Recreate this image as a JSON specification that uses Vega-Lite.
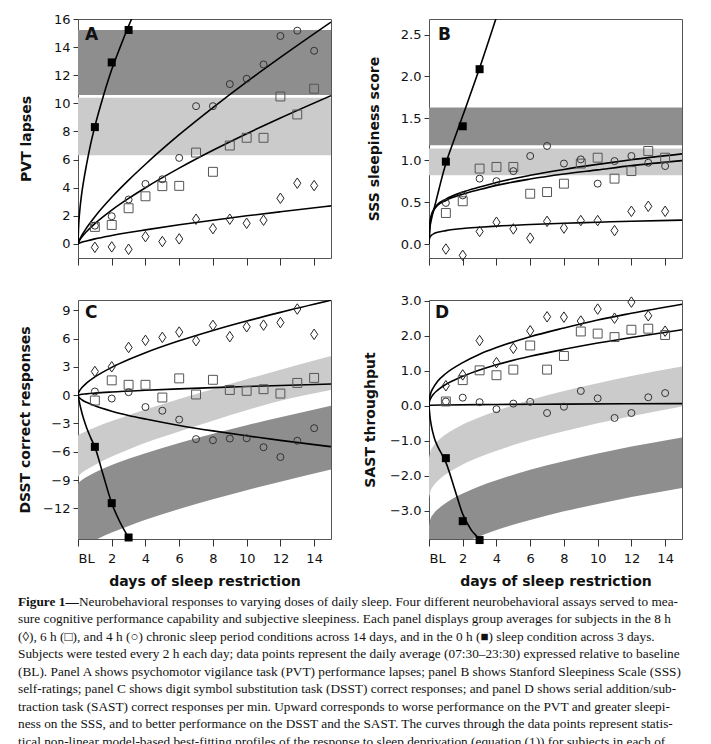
{
  "$schema": "https://vega.github.io/schema/vega-lite/v6.json",
  "background": "white",
  "padding": {"left": 17, "top": 12, "right": 5, "bottom": 0},
  "spacing": 0,
  "config": {
    "view": {"stroke": "#555", "strokeWidth": 1},
    "axis": {"labelFont": "DejaVu Sans", "labelFontSize": 13, "labelColor": "#111", "titleFont": "DejaVu Sans", "titleFontSize": 14, "titleFontWeight": "bold", "titleColor": "#111", "tickColor": "#333", "tickSize": 5, "labelPadding": 3, "domain": false, "grid": false},
    "axisX": {"tickSize": 7, "labelPadding": 6, "titlePadding": 9},
    "title": {"anchor": "start", "frame": "group", "orient": "top", "baseline": "alphabetic", "font": "DejaVu Sans", "fontSize": 17, "fontWeight": "bold", "color": "#111"}
  },
  "vconcat": [
    {
      "spacing": 28,
      "vconcat": [
    {
      "hconcat": [
        {
          "width": 253, "height": 239,
          "title": {"text": "A", "offset": -31, "dx": 7},
          "encoding": {
            "x": {"field": "t", "type": "quantitative", "scale": {"domain": [0, 15], "nice": false, "zero": false}, "axis": {"values": [0, 2, 4, 6, 8, 10, 12, 14], "labels": false, "title": null}},
            "y": {"field": "y", "type": "quantitative", "scale": {"domain": [-1, 16], "nice": false, "zero": false}, "axis": {"values": [0, 2, 4, 6, 8, 10, 12, 14, 16], "title": "PVT lapses", "titleX": -45}}
          },
          "layer": [
            {
              "data": {"values": [{"band": "dark", "t": 0, "y": 10.59, "y2": 15.22}, {"band": "dark", "t": 15, "y": 10.59, "y2": 15.22}, {"band": "light", "t": 0, "y": 6.31, "y2": 10.40}, {"band": "light", "t": 15, "y": 6.31, "y2": 10.40}]},
              "mark": {"type": "area", "opacity": 1},
              "encoding": {"y2": {"field": "y2"}, "color": {"field": "band", "type": "nominal", "scale": {"domain": ["dark", "light"], "range": ["#8e8e8e", "#cbcbcb"]}, "legend": null}}
            },
            {
              "data": {"values": [
                {"cond": "0 h", "t": 0, "y": 0}, {"cond": "0 h", "t": 0.03, "y": 1.1}, {"cond": "0 h", "t": 0.1, "y": 2.3}, {"cond": "0 h", "t": 0.2, "y": 3.4}, {"cond": "0 h", "t": 0.35, "y": 4.6}, {"cond": "0 h", "t": 0.5, "y": 5.6}, {"cond": "0 h", "t": 0.75, "y": 7.1}, {"cond": "0 h", "t": 1, "y": 8.35}, {"cond": "0 h", "t": 1.5, "y": 10.5}, {"cond": "0 h", "t": 2, "y": 12.4}, {"cond": "0 h", "t": 2.5, "y": 14.0}, {"cond": "0 h", "t": 3, "y": 15.5}, {"cond": "0 h", "t": 3.3, "y": 16.35},
                {"cond": "4 h", "t": 0, "y": 0}, {"cond": "4 h", "t": 0.05, "y": 0.19}, {"cond": "4 h", "t": 0.1, "y": 0.33}, {"cond": "4 h", "t": 0.25, "y": 0.66}, {"cond": "4 h", "t": 0.5, "y": 1.13}, {"cond": "4 h", "t": 1, "y": 1.94}, {"cond": "4 h", "t": 2, "y": 3.32}, {"cond": "4 h", "t": 3, "y": 4.54}, {"cond": "4 h", "t": 4, "y": 5.67}, {"cond": "4 h", "t": 6, "y": 7.77}, {"cond": "4 h", "t": 8, "y": 9.70}, {"cond": "4 h", "t": 10, "y": 11.53}, {"cond": "4 h", "t": 12, "y": 13.27}, {"cond": "4 h", "t": 15, "y": 15.78},
                {"cond": "6 h", "t": 0, "y": 0}, {"cond": "6 h", "t": 0.05, "y": 0.16}, {"cond": "6 h", "t": 0.1, "y": 0.27}, {"cond": "6 h", "t": 0.25, "y": 0.52}, {"cond": "6 h", "t": 0.5, "y": 0.87}, {"cond": "6 h", "t": 1, "y": 1.45}, {"cond": "6 h", "t": 2, "y": 2.41}, {"cond": "6 h", "t": 3, "y": 3.24}, {"cond": "6 h", "t": 4, "y": 4.0}, {"cond": "6 h", "t": 6, "y": 5.39}, {"cond": "6 h", "t": 8, "y": 6.66}, {"cond": "6 h", "t": 10, "y": 7.84}, {"cond": "6 h", "t": 12, "y": 8.96}, {"cond": "6 h", "t": 15, "y": 10.55},
                {"cond": "8 h", "t": 0, "y": 0}, {"cond": "8 h", "t": 0.05, "y": 0.04}, {"cond": "8 h", "t": 0.1, "y": 0.06}, {"cond": "8 h", "t": 0.25, "y": 0.13}, {"cond": "8 h", "t": 0.5, "y": 0.21}, {"cond": "8 h", "t": 1, "y": 0.36}, {"cond": "8 h", "t": 2, "y": 0.6}, {"cond": "8 h", "t": 3, "y": 0.81}, {"cond": "8 h", "t": 4, "y": 1.0}, {"cond": "8 h", "t": 6, "y": 1.36}, {"cond": "8 h", "t": 8, "y": 1.69}, {"cond": "8 h", "t": 10, "y": 2.0}, {"cond": "8 h", "t": 12, "y": 2.29}, {"cond": "8 h", "t": 15, "y": 2.71}
              ]},
              "mark": {"type": "line", "color": "#000", "strokeWidth": 1.6, "clip": true, "interpolate": "monotone"},
              "encoding": {"detail": {"field": "cond"}}
            },
            {
              "data": {"name": "ptsA", "values": [
                {"cond": "8 h", "t": 1, "y": -0.24}, {"cond": "8 h", "t": 2, "y": -0.21}, {"cond": "8 h", "t": 3, "y": -0.38}, {"cond": "8 h", "t": 4, "y": 0.52}, {"cond": "8 h", "t": 5, "y": 0.17}, {"cond": "8 h", "t": 6, "y": 0.36}, {"cond": "8 h", "t": 7, "y": 1.76}, {"cond": "8 h", "t": 8, "y": 1.09}, {"cond": "8 h", "t": 9, "y": 1.76}, {"cond": "8 h", "t": 10, "y": 1.47}, {"cond": "8 h", "t": 11, "y": 1.69}, {"cond": "8 h", "t": 12, "y": 3.25}, {"cond": "8 h", "t": 13, "y": 4.32}, {"cond": "8 h", "t": 14, "y": 4.15},
                {"cond": "6 h", "t": 1, "y": 1.21}, {"cond": "6 h", "t": 2, "y": 1.35}, {"cond": "6 h", "t": 3, "y": 2.54}, {"cond": "6 h", "t": 4, "y": 3.39}, {"cond": "6 h", "t": 5, "y": 4.11}, {"cond": "6 h", "t": 6, "y": 4.13}, {"cond": "6 h", "t": 7, "y": 6.5}, {"cond": "6 h", "t": 8, "y": 5.13}, {"cond": "6 h", "t": 9, "y": 7.0}, {"cond": "6 h", "t": 10, "y": 7.55}, {"cond": "6 h", "t": 11, "y": 7.55}, {"cond": "6 h", "t": 12, "y": 10.49}, {"cond": "6 h", "t": 13, "y": 9.21}, {"cond": "6 h", "t": 14, "y": 11.04},
                {"cond": "4 h", "t": 1, "y": 1.3}, {"cond": "4 h", "t": 2, "y": 1.97}, {"cond": "4 h", "t": 3, "y": 3.16}, {"cond": "4 h", "t": 4, "y": 4.27}, {"cond": "4 h", "t": 5, "y": 4.6}, {"cond": "4 h", "t": 6, "y": 6.12}, {"cond": "4 h", "t": 7, "y": 9.8}, {"cond": "4 h", "t": 8, "y": 9.8}, {"cond": "4 h", "t": 9, "y": 11.37}, {"cond": "4 h", "t": 10, "y": 11.75}, {"cond": "4 h", "t": 11, "y": 12.77}, {"cond": "4 h", "t": 12, "y": 14.79}, {"cond": "4 h", "t": 13, "y": 15.17}, {"cond": "4 h", "t": 14, "y": 13.74},
                {"cond": "0 h", "t": 1, "y": 8.31}, {"cond": "0 h", "t": 2, "y": 12.91}, {"cond": "0 h", "t": 3, "y": 15.22}
              ]},
              "transform": [{"filter": "datum.cond != '0 h'"}],
              "mark": {"type": "point", "filled": false, "strokeWidth": 1, "opacity": 1},
              "encoding": {
                "shape": {"field": "cond", "type": "nominal", "scale": {"domain": ["8 h", "6 h", "4 h"], "range": ["M0,-1L0.68,0L0,1L-0.68,0Z", "square", "circle"]}, "legend": null},
                "size": {"field": "cond", "type": "ordinal", "scale": {"domain": ["8 h", "6 h", "4 h"], "range": [110, 49, 45]}, "legend": null},
                "stroke": {"field": "cond", "type": "nominal", "scale": {"domain": ["8 h", "6 h", "4 h"], "range": ["#222", "#555", "#333"]}, "legend": null}
              }
            },
            {
              "data": {"name": "ptsA"},
              "transform": [{"filter": "datum.cond == '0 h'"}],
              "mark": {"type": "square", "filled": true, "color": "#000", "size": 64, "opacity": 1}
            }
          ]
        },
        {
          "width": 253, "height": 239,
          "title": {"text": "B", "offset": -25, "dx": 9},
          "encoding": {
            "x": {"field": "t", "type": "quantitative", "scale": {"domain": [0, 15], "nice": false, "zero": false}, "axis": {"values": [0, 2, 4, 6, 8, 10, 12, 14], "labels": false, "title": null}},
            "y": {"field": "y", "type": "quantitative", "scale": {"domain": [-0.167, 2.685], "nice": false, "zero": false}, "axis": {"values": [0, 0.5, 1, 1.5, 2, 2.5], "format": ".1f", "title": "SSS sleepiness score", "titleX": -48}}
          },
          "layer": [
            {
              "data": {"values": [{"band": "dark", "t": 0, "y": 1.178, "y2": 1.628}, {"band": "dark", "t": 15, "y": 1.178, "y2": 1.628}, {"band": "light", "t": 0, "y": 0.82, "y2": 1.139}, {"band": "light", "t": 15, "y": 0.82, "y2": 1.139}]},
              "mark": {"type": "area", "opacity": 1},
              "encoding": {"y2": {"field": "y2"}, "color": {"field": "band", "type": "nominal", "scale": {"domain": ["dark", "light"], "range": ["#8e8e8e", "#cbcbcb"]}, "legend": null}}
            },
            {
              "data": {"values": [
                {"cond": "0 h", "t": 0, "y": 0}, {"cond": "0 h", "t": 0.05, "y": 0.18}, {"cond": "0 h", "t": 0.15, "y": 0.3}, {"cond": "0 h", "t": 0.3, "y": 0.42}, {"cond": "0 h", "t": 0.5, "y": 0.58}, {"cond": "0 h", "t": 0.75, "y": 0.78}, {"cond": "0 h", "t": 1, "y": 0.96}, {"cond": "0 h", "t": 1.5, "y": 1.25}, {"cond": "0 h", "t": 2, "y": 1.53}, {"cond": "0 h", "t": 3, "y": 2.1}, {"cond": "0 h", "t": 3.97, "y": 2.69},
                {"cond": "4 h", "t": 0, "y": 0}, {"cond": "4 h", "t": 0.02, "y": 0.14}, {"cond": "4 h", "t": 0.06, "y": 0.25}, {"cond": "4 h", "t": 0.15, "y": 0.35}, {"cond": "4 h", "t": 0.3, "y": 0.42}, {"cond": "4 h", "t": 0.5, "y": 0.47}, {"cond": "4 h", "t": 1, "y": 0.535}, {"cond": "4 h", "t": 2, "y": 0.62}, {"cond": "4 h", "t": 3, "y": 0.68}, {"cond": "4 h", "t": 4, "y": 0.735}, {"cond": "4 h", "t": 6, "y": 0.82}, {"cond": "4 h", "t": 8, "y": 0.89}, {"cond": "4 h", "t": 10, "y": 0.95}, {"cond": "4 h", "t": 12, "y": 1.005}, {"cond": "4 h", "t": 15, "y": 1.075},
                {"cond": "6 h", "t": 0, "y": 0}, {"cond": "6 h", "t": 0.02, "y": 0.14}, {"cond": "6 h", "t": 0.06, "y": 0.25}, {"cond": "6 h", "t": 0.15, "y": 0.34}, {"cond": "6 h", "t": 0.3, "y": 0.41}, {"cond": "6 h", "t": 0.5, "y": 0.46}, {"cond": "6 h", "t": 1, "y": 0.52}, {"cond": "6 h", "t": 2, "y": 0.595}, {"cond": "6 h", "t": 3, "y": 0.65}, {"cond": "6 h", "t": 4, "y": 0.70}, {"cond": "6 h", "t": 6, "y": 0.775}, {"cond": "6 h", "t": 8, "y": 0.835}, {"cond": "6 h", "t": 10, "y": 0.885}, {"cond": "6 h", "t": 12, "y": 0.935}, {"cond": "6 h", "t": 15, "y": 0.995},
                {"cond": "8 h", "t": 0, "y": 0}, {"cond": "8 h", "t": 0.02, "y": 0.06}, {"cond": "8 h", "t": 0.06, "y": 0.085}, {"cond": "8 h", "t": 0.15, "y": 0.105}, {"cond": "8 h", "t": 0.3, "y": 0.125}, {"cond": "8 h", "t": 0.5, "y": 0.14}, {"cond": "8 h", "t": 1, "y": 0.16}, {"cond": "8 h", "t": 2, "y": 0.185}, {"cond": "8 h", "t": 3, "y": 0.2}, {"cond": "8 h", "t": 4, "y": 0.213}, {"cond": "8 h", "t": 6, "y": 0.232}, {"cond": "8 h", "t": 8, "y": 0.248}, {"cond": "8 h", "t": 10, "y": 0.26}, {"cond": "8 h", "t": 12, "y": 0.272}, {"cond": "8 h", "t": 15, "y": 0.285}
              ]},
              "mark": {"type": "line", "color": "#000", "strokeWidth": 1.6, "clip": true, "interpolate": "monotone"},
              "encoding": {"detail": {"field": "cond"}}
            },
            {
              "data": {"name": "ptsB", "values": [
                {"cond": "8 h", "t": 1, "y": -0.06}, {"cond": "8 h", "t": 2, "y": -0.135}, {"cond": "8 h", "t": 3, "y": 0.15}, {"cond": "8 h", "t": 4, "y": 0.26}, {"cond": "8 h", "t": 5, "y": 0.18}, {"cond": "8 h", "t": 6, "y": 0.07}, {"cond": "8 h", "t": 7, "y": 0.27}, {"cond": "8 h", "t": 8, "y": 0.19}, {"cond": "8 h", "t": 9, "y": 0.28}, {"cond": "8 h", "t": 10, "y": 0.28}, {"cond": "8 h", "t": 11, "y": 0.16}, {"cond": "8 h", "t": 12, "y": 0.39}, {"cond": "8 h", "t": 13, "y": 0.45}, {"cond": "8 h", "t": 14, "y": 0.39},
                {"cond": "6 h", "t": 1, "y": 0.37}, {"cond": "6 h", "t": 2, "y": 0.51}, {"cond": "6 h", "t": 3, "y": 0.90}, {"cond": "6 h", "t": 4, "y": 0.92}, {"cond": "6 h", "t": 5, "y": 0.92}, {"cond": "6 h", "t": 6, "y": 0.60}, {"cond": "6 h", "t": 7, "y": 0.62}, {"cond": "6 h", "t": 8, "y": 0.72}, {"cond": "6 h", "t": 9, "y": 0.96}, {"cond": "6 h", "t": 10, "y": 1.03}, {"cond": "6 h", "t": 11, "y": 0.78}, {"cond": "6 h", "t": 12, "y": 0.87}, {"cond": "6 h", "t": 13, "y": 1.11}, {"cond": "6 h", "t": 14, "y": 1.03},
                {"cond": "4 h", "t": 1, "y": 0.49}, {"cond": "4 h", "t": 2, "y": 0.58}, {"cond": "4 h", "t": 3, "y": 0.78}, {"cond": "4 h", "t": 4, "y": 0.75}, {"cond": "4 h", "t": 5, "y": 0.87}, {"cond": "4 h", "t": 6, "y": 1.05}, {"cond": "4 h", "t": 7, "y": 1.17}, {"cond": "4 h", "t": 8, "y": 0.96}, {"cond": "4 h", "t": 9, "y": 1.01}, {"cond": "4 h", "t": 10, "y": 0.72}, {"cond": "4 h", "t": 11, "y": 0.99}, {"cond": "4 h", "t": 12, "y": 1.05}, {"cond": "4 h", "t": 13, "y": 0.97}, {"cond": "4 h", "t": 14, "y": 0.93},
                {"cond": "0 h", "t": 1, "y": 0.983}, {"cond": "0 h", "t": 2, "y": 1.405}, {"cond": "0 h", "t": 3, "y": 2.086}
              ]},
              "transform": [{"filter": "datum.cond != '0 h'"}],
              "mark": {"type": "point", "filled": false, "strokeWidth": 1, "opacity": 1},
              "encoding": {
                "shape": {"field": "cond", "type": "nominal", "scale": {"domain": ["8 h", "6 h", "4 h"], "range": ["M0,-1L0.68,0L0,1L-0.68,0Z", "square", "circle"]}, "legend": null},
                "size": {"field": "cond", "type": "ordinal", "scale": {"domain": ["8 h", "6 h", "4 h"], "range": [110, 49, 45]}, "legend": null},
                "stroke": {"field": "cond", "type": "nominal", "scale": {"domain": ["8 h", "6 h", "4 h"], "range": ["#222", "#555", "#333"]}, "legend": null}
              }
            },
            {
              "data": {"name": "ptsB"},
              "transform": [{"filter": "datum.cond == '0 h'"}],
              "mark": {"type": "square", "filled": true, "color": "#000", "size": 64, "opacity": 1}
            }
          ]
        }
      ],
      "spacing": 98,
      "bounds": "flush"
    },
    {
      "hconcat": [
        {
          "width": 253, "height": 239,
          "title": {"text": "C", "offset": -22, "dx": 7},
          "encoding": {
            "x": {"field": "t", "type": "quantitative", "scale": {"domain": [0, 15], "nice": false, "zero": false}, "axis": {"values": [0, 2, 4, 6, 8, 10, 12, 14], "labelExpr": "datum.value === 0 ? 'BL' : datum.label", "title": "days of sleep restriction"}},
            "y": {"field": "y", "type": "quantitative", "scale": {"domain": [-15.25, 10.09], "nice": false, "zero": false}, "axis": {"values": [-12, -9, -6, -3, 0, 3, 6, 9], "title": "DSST correct responses", "titleX": -46}}
          },
          "layer": [
            {
              "data": {"values": [
                {"band": "light", "t": 0, "y": -8.7, "y2": -4.27}, {"band": "light", "t": 0.1, "y": -8.45, "y2": -4.15}, {"band": "light", "t": 0.25, "y": -8.2, "y2": -4.01}, {"band": "light", "t": 0.5, "y": -7.9, "y2": -3.8}, {"band": "light", "t": 1, "y": -7.4, "y2": -3.43}, {"band": "light", "t": 2, "y": -6.5, "y2": -2.75}, {"band": "light", "t": 3, "y": -5.75, "y2": -2.13}, {"band": "light", "t": 4, "y": -5.05, "y2": -1.53}, {"band": "light", "t": 6, "y": -3.85, "y2": -0.41}, {"band": "light", "t": 8, "y": -2.7, "y2": 0.66}, {"band": "light", "t": 10, "y": -1.6, "y2": 1.69}, {"band": "light", "t": 12, "y": -0.6, "y2": 2.69}, {"band": "light", "t": 15, "y": 0.55, "y2": 4.14},
                {"band": "dark", "t": 0, "y": -16.72, "y2": -9.44}, {"band": "dark", "t": 0.1, "y": -16.46, "y2": -9.19}, {"band": "dark", "t": 0.25, "y": -16.22, "y2": -8.97}, {"band": "dark", "t": 0.5, "y": -15.9, "y2": -8.67}, {"band": "dark", "t": 1, "y": -15.39, "y2": -8.19}, {"band": "dark", "t": 2, "y": -14.57, "y2": -7.41}, {"band": "dark", "t": 3, "y": -13.86, "y2": -6.75}, {"band": "dark", "t": 4, "y": -13.22, "y2": -6.15}, {"band": "dark", "t": 6, "y": -12.07, "y2": -5.06}, {"band": "dark", "t": 8, "y": -11.03, "y2": -4.09}, {"band": "dark", "t": 10, "y": -10.08, "y2": -3.19}, {"band": "dark", "t": 12, "y": -9.18, "y2": -2.35}, {"band": "dark", "t": 15, "y": -7.89, "y2": -1.13}
              ]},
              "mark": {"type": "area", "clip": true, "interpolate": "monotone", "opacity": 1},
              "encoding": {"y2": {"field": "y2"}, "color": {"field": "band", "type": "nominal", "scale": {"domain": ["dark", "light"], "range": ["#8e8e8e", "#cbcbcb"]}, "legend": null}}
            },
            {
              "data": {"values": [
                {"cond": "0 h", "t": 0, "y": 0}, {"cond": "0 h", "t": 0.1, "y": -0.9}, {"cond": "0 h", "t": 0.25, "y": -2.0}, {"cond": "0 h", "t": 0.5, "y": -3.4}, {"cond": "0 h", "t": 0.75, "y": -4.5}, {"cond": "0 h", "t": 1, "y": -5.5}, {"cond": "0 h", "t": 1.5, "y": -8.5}, {"cond": "0 h", "t": 2, "y": -11.45}, {"cond": "0 h", "t": 2.5, "y": -13.5}, {"cond": "0 h", "t": 3, "y": -15.1}, {"cond": "0 h", "t": 3.1, "y": -15.4},
                {"cond": "4 h", "t": 0, "y": 0}, {"cond": "4 h", "t": 0.02, "y": -0.12}, {"cond": "4 h", "t": 0.1, "y": -0.3}, {"cond": "4 h", "t": 0.25, "y": -0.51}, {"cond": "4 h", "t": 0.5, "y": -0.76}, {"cond": "4 h", "t": 1, "y": -1.13}, {"cond": "4 h", "t": 2, "y": -1.7}, {"cond": "4 h", "t": 3, "y": -2.15}, {"cond": "4 h", "t": 4, "y": -2.53}, {"cond": "4 h", "t": 6, "y": -3.21}, {"cond": "4 h", "t": 8, "y": -3.79}, {"cond": "4 h", "t": 10, "y": -4.31}, {"cond": "4 h", "t": 12, "y": -4.79}, {"cond": "4 h", "t": 15, "y": -5.46},
                {"cond": "6 h", "t": 0, "y": 0}, {"cond": "6 h", "t": 0.1, "y": 0.05}, {"cond": "6 h", "t": 0.5, "y": 0.14}, {"cond": "6 h", "t": 1, "y": 0.22}, {"cond": "6 h", "t": 2, "y": 0.34}, {"cond": "6 h", "t": 4, "y": 0.52}, {"cond": "6 h", "t": 6, "y": 0.67}, {"cond": "6 h", "t": 8, "y": 0.8}, {"cond": "6 h", "t": 10, "y": 0.92}, {"cond": "6 h", "t": 12, "y": 1.03}, {"cond": "6 h", "t": 15, "y": 1.18},
                {"cond": "8 h", "t": 0, "y": 0}, {"cond": "8 h", "t": 0.02, "y": 0.18}, {"cond": "8 h", "t": 0.1, "y": 0.48}, {"cond": "8 h", "t": 0.25, "y": 0.83}, {"cond": "8 h", "t": 0.5, "y": 1.27}, {"cond": "8 h", "t": 1, "y": 1.93}, {"cond": "8 h", "t": 2, "y": 2.95}, {"cond": "8 h", "t": 3, "y": 3.77}, {"cond": "8 h", "t": 4, "y": 4.5}, {"cond": "8 h", "t": 6, "y": 5.76}, {"cond": "8 h", "t": 8, "y": 6.86}, {"cond": "8 h", "t": 10, "y": 7.86}, {"cond": "8 h", "t": 12, "y": 8.78}, {"cond": "8 h", "t": 15, "y": 10.06}
              ]},
              "mark": {"type": "line", "color": "#000", "strokeWidth": 1.6, "clip": true, "interpolate": "monotone"},
              "encoding": {"detail": {"field": "cond"}}
            },
            {
              "data": {"name": "ptsC", "values": [
                {"cond": "8 h", "t": 1, "y": 2.51}, {"cond": "8 h", "t": 2, "y": 3.01}, {"cond": "8 h", "t": 3, "y": 5.06}, {"cond": "8 h", "t": 4, "y": 5.81}, {"cond": "8 h", "t": 5, "y": 6.13}, {"cond": "8 h", "t": 6, "y": 6.69}, {"cond": "8 h", "t": 7, "y": 5.77}, {"cond": "8 h", "t": 8, "y": 7.4}, {"cond": "8 h", "t": 9, "y": 6.2}, {"cond": "8 h", "t": 10, "y": 7.25}, {"cond": "8 h", "t": 11, "y": 7.43}, {"cond": "8 h", "t": 12, "y": 7.7}, {"cond": "8 h", "t": 13, "y": 9.13}, {"cond": "8 h", "t": 14, "y": 6.45},
                {"cond": "6 h", "t": 1, "y": -0.57}, {"cond": "6 h", "t": 2, "y": 1.57}, {"cond": "6 h", "t": 3, "y": 1.1}, {"cond": "6 h", "t": 4, "y": 1.1}, {"cond": "6 h", "t": 5, "y": -0.25}, {"cond": "6 h", "t": 6, "y": 1.78}, {"cond": "6 h", "t": 7, "y": 0.07}, {"cond": "6 h", "t": 8, "y": 1.63}, {"cond": "6 h", "t": 9, "y": 0.55}, {"cond": "6 h", "t": 10, "y": 0.46}, {"cond": "6 h", "t": 11, "y": 0.63}, {"cond": "6 h", "t": 12, "y": 0.17}, {"cond": "6 h", "t": 13, "y": 1.3}, {"cond": "6 h", "t": 14, "y": 1.83},
                {"cond": "4 h", "t": 1, "y": 0.39}, {"cond": "4 h", "t": 2, "y": -0.36}, {"cond": "4 h", "t": 3, "y": 0.32}, {"cond": "4 h", "t": 4, "y": -1.26}, {"cond": "4 h", "t": 5, "y": -1.65}, {"cond": "4 h", "t": 6, "y": -2.59}, {"cond": "4 h", "t": 7, "y": -4.66}, {"cond": "4 h", "t": 8, "y": -4.78}, {"cond": "4 h", "t": 9, "y": -4.6}, {"cond": "4 h", "t": 10, "y": -4.57}, {"cond": "4 h", "t": 11, "y": -5.52}, {"cond": "4 h", "t": 12, "y": -6.56}, {"cond": "4 h", "t": 13, "y": -4.83}, {"cond": "4 h", "t": 14, "y": -3.5},
                {"cond": "0 h", "t": 1, "y": -5.48}, {"cond": "0 h", "t": 2, "y": -11.45}, {"cond": "0 h", "t": 3, "y": -15.09}
              ]},
              "transform": [{"filter": "datum.cond != '0 h'"}],
              "mark": {"type": "point", "filled": false, "strokeWidth": 1, "opacity": 1},
              "encoding": {
                "shape": {"field": "cond", "type": "nominal", "scale": {"domain": ["8 h", "6 h", "4 h"], "range": ["M0,-1L0.68,0L0,1L-0.68,0Z", "square", "circle"]}, "legend": null},
                "size": {"field": "cond", "type": "ordinal", "scale": {"domain": ["8 h", "6 h", "4 h"], "range": [110, 49, 45]}, "legend": null},
                "stroke": {"field": "cond", "type": "nominal", "scale": {"domain": ["8 h", "6 h", "4 h"], "range": ["#222", "#555", "#333"]}, "legend": null}
              }
            },
            {
              "data": {"name": "ptsC"},
              "transform": [{"filter": "datum.cond == '0 h'"}],
              "mark": {"type": "square", "filled": true, "color": "#000", "size": 64, "opacity": 1}
            }
          ]
        },
        {
          "width": 253, "height": 239,
          "title": {"text": "D", "offset": -27, "dx": 6},
          "encoding": {
            "x": {"field": "t", "type": "quantitative", "scale": {"domain": [0, 15], "nice": false, "zero": false}, "axis": {"values": [0, 2, 4, 6, 8, 10, 12, 14], "labelExpr": "datum.value === 0 ? 'BL' : datum.label", "title": "days of sleep restriction"}},
            "y": {"field": "y", "type": "quantitative", "scale": {"domain": [-3.81, 3.02], "nice": false, "zero": false}, "axis": {"values": [-3, -2, -1, 0, 1, 2, 3], "format": ".1f", "title": "SAST throughput", "titleX": -52}}
          },
          "layer": [
            {
              "data": {"values": [
                {"band": "light", "t": 0, "y": -2.64, "y2": -1.5}, {"band": "light", "t": 0.1, "y": -2.43, "y2": -1.29}, {"band": "light", "t": 0.25, "y": -2.3, "y2": -1.16}, {"band": "light", "t": 0.5, "y": -2.16, "y2": -1.02}, {"band": "light", "t": 1, "y": -1.96, "y2": -0.82}, {"band": "light", "t": 2, "y": -1.68, "y2": -0.54}, {"band": "light", "t": 3, "y": -1.47, "y2": -0.33}, {"band": "light", "t": 4, "y": -1.29, "y2": -0.15}, {"band": "light", "t": 6, "y": -0.98, "y2": 0.16}, {"band": "light", "t": 8, "y": -0.73, "y2": 0.42}, {"band": "light", "t": 10, "y": -0.5, "y2": 0.64}, {"band": "light", "t": 12, "y": -0.3, "y2": 0.85}, {"band": "light", "t": 15, "y": -0.02, "y2": 1.12},
                {"band": "dark", "t": 0, "y": -4.84, "y2": -3.43}, {"band": "dark", "t": 0.1, "y": -4.64, "y2": -3.22}, {"band": "dark", "t": 0.25, "y": -4.52, "y2": -3.1}, {"band": "dark", "t": 0.5, "y": -4.39, "y2": -2.97}, {"band": "dark", "t": 1, "y": -4.2, "y2": -2.78}, {"band": "dark", "t": 2, "y": -3.93, "y2": -2.51}, {"band": "dark", "t": 3, "y": -3.73, "y2": -2.3}, {"band": "dark", "t": 4, "y": -3.55, "y2": -2.13}, {"band": "dark", "t": 6, "y": -3.27, "y2": -1.83}, {"band": "dark", "t": 8, "y": -3.02, "y2": -1.59}, {"band": "dark", "t": 10, "y": -2.81, "y2": -1.37}, {"band": "dark", "t": 12, "y": -2.61, "y2": -1.17}, {"band": "dark", "t": 15, "y": -2.35, "y2": -0.91}
              ]},
              "mark": {"type": "area", "clip": true, "interpolate": "monotone", "opacity": 1},
              "encoding": {"y2": {"field": "y2"}, "color": {"field": "band", "type": "nominal", "scale": {"domain": ["dark", "light"], "range": ["#8e8e8e", "#cbcbcb"]}, "legend": null}}
            },
            {
              "data": {"values": [
                {"cond": "0 h", "t": 0, "y": 0}, {"cond": "0 h", "t": 0.05, "y": -0.28}, {"cond": "0 h", "t": 0.15, "y": -0.6}, {"cond": "0 h", "t": 0.3, "y": -0.9}, {"cond": "0 h", "t": 0.5, "y": -1.15}, {"cond": "0 h", "t": 0.75, "y": -1.38}, {"cond": "0 h", "t": 1, "y": -1.62}, {"cond": "0 h", "t": 1.5, "y": -2.35}, {"cond": "0 h", "t": 2, "y": -3.1}, {"cond": "0 h", "t": 2.5, "y": -3.55}, {"cond": "0 h", "t": 3, "y": -3.85}, {"cond": "0 h", "t": 3.05, "y": -3.9},
                {"cond": "4 h", "t": 0, "y": 0}, {"cond": "4 h", "t": 0.1, "y": 0.012}, {"cond": "4 h", "t": 1, "y": 0.02}, {"cond": "4 h", "t": 4, "y": 0.035}, {"cond": "4 h", "t": 8, "y": 0.045}, {"cond": "4 h", "t": 15, "y": 0.06},
                {"cond": "6 h", "t": 0, "y": 0}, {"cond": "6 h", "t": 0.02, "y": 0.1}, {"cond": "6 h", "t": 0.1, "y": 0.21}, {"cond": "6 h", "t": 0.25, "y": 0.32}, {"cond": "6 h", "t": 0.5, "y": 0.44}, {"cond": "6 h", "t": 1, "y": 0.61}, {"cond": "6 h", "t": 2, "y": 0.84}, {"cond": "6 h", "t": 3, "y": 1.02}, {"cond": "6 h", "t": 4, "y": 1.17}, {"cond": "6 h", "t": 6, "y": 1.41}, {"cond": "6 h", "t": 8, "y": 1.61}, {"cond": "6 h", "t": 10, "y": 1.79}, {"cond": "6 h", "t": 12, "y": 1.95}, {"cond": "6 h", "t": 15, "y": 2.17},
                {"cond": "8 h", "t": 0, "y": 0}, {"cond": "8 h", "t": 0.02, "y": 0.17}, {"cond": "8 h", "t": 0.1, "y": 0.35}, {"cond": "8 h", "t": 0.25, "y": 0.51}, {"cond": "8 h", "t": 0.5, "y": 0.69}, {"cond": "8 h", "t": 1, "y": 0.92}, {"cond": "8 h", "t": 2, "y": 1.23}, {"cond": "8 h", "t": 3, "y": 1.47}, {"cond": "8 h", "t": 4, "y": 1.66}, {"cond": "8 h", "t": 6, "y": 1.97}, {"cond": "8 h", "t": 8, "y": 2.22}, {"cond": "8 h", "t": 10, "y": 2.45}, {"cond": "8 h", "t": 12, "y": 2.64}, {"cond": "8 h", "t": 15, "y": 2.9}
              ]},
              "mark": {"type": "line", "color": "#000", "strokeWidth": 1.6, "clip": true, "interpolate": "monotone"},
              "encoding": {"detail": {"field": "cond"}}
            },
            {
              "data": {"name": "ptsD", "values": [
                {"cond": "8 h", "t": 1, "y": 0.57}, {"cond": "8 h", "t": 2, "y": 0.88}, {"cond": "8 h", "t": 3, "y": 1.86}, {"cond": "8 h", "t": 4, "y": 1.23}, {"cond": "8 h", "t": 5, "y": 1.64}, {"cond": "8 h", "t": 6, "y": 2.14}, {"cond": "8 h", "t": 7, "y": 2.54}, {"cond": "8 h", "t": 8, "y": 2.53}, {"cond": "8 h", "t": 9, "y": 2.42}, {"cond": "8 h", "t": 10, "y": 2.76}, {"cond": "8 h", "t": 11, "y": 2.5}, {"cond": "8 h", "t": 12, "y": 2.96}, {"cond": "8 h", "t": 13, "y": 2.57}, {"cond": "8 h", "t": 14, "y": 2.13},
                {"cond": "6 h", "t": 1, "y": 0.12}, {"cond": "6 h", "t": 2, "y": 0.73}, {"cond": "6 h", "t": 3, "y": 1.01}, {"cond": "6 h", "t": 4, "y": 0.87}, {"cond": "6 h", "t": 5, "y": 1.03}, {"cond": "6 h", "t": 6, "y": 1.72}, {"cond": "6 h", "t": 7, "y": 1.03}, {"cond": "6 h", "t": 8, "y": 1.42}, {"cond": "6 h", "t": 9, "y": 2.12}, {"cond": "6 h", "t": 10, "y": 2.06}, {"cond": "6 h", "t": 11, "y": 1.96}, {"cond": "6 h", "t": 12, "y": 2.17}, {"cond": "6 h", "t": 13, "y": 2.2}, {"cond": "6 h", "t": 14, "y": 2.02},
                {"cond": "4 h", "t": 1, "y": 0.12}, {"cond": "4 h", "t": 2, "y": 0.23}, {"cond": "4 h", "t": 3, "y": 0.1}, {"cond": "4 h", "t": 4, "y": -0.1}, {"cond": "4 h", "t": 5, "y": 0.06}, {"cond": "4 h", "t": 6, "y": 0.11}, {"cond": "4 h", "t": 7, "y": -0.21}, {"cond": "4 h", "t": 8, "y": -0.03}, {"cond": "4 h", "t": 9, "y": 0.42}, {"cond": "4 h", "t": 10, "y": 0.21}, {"cond": "4 h", "t": 11, "y": -0.35}, {"cond": "4 h", "t": 12, "y": -0.21}, {"cond": "4 h", "t": 13, "y": 0.24}, {"cond": "4 h", "t": 14, "y": 0.36},
                {"cond": "0 h", "t": 1, "y": -1.5}, {"cond": "0 h", "t": 2, "y": -3.3}, {"cond": "0 h", "t": 3, "y": -3.84}
              ]},
              "transform": [{"filter": "datum.cond != '0 h'"}],
              "mark": {"type": "point", "filled": false, "strokeWidth": 1, "opacity": 1},
              "encoding": {
                "shape": {"field": "cond", "type": "nominal", "scale": {"domain": ["8 h", "6 h", "4 h"], "range": ["M0,-1L0.68,0L0,1L-0.68,0Z", "square", "circle"]}, "legend": null},
                "size": {"field": "cond", "type": "ordinal", "scale": {"domain": ["8 h", "6 h", "4 h"], "range": [110, 49, 45]}, "legend": null},
                "stroke": {"field": "cond", "type": "nominal", "scale": {"domain": ["8 h", "6 h", "4 h"], "range": ["#222", "#555", "#333"]}, "legend": null}
              }
            },
            {
              "data": {"name": "ptsD"},
              "transform": [{"filter": "datum.cond == '0 h'"}],
              "mark": {"type": "square", "filled": true, "color": "#000", "size": 64, "opacity": 1}
            }
          ]
        }
      ],
      "spacing": 98,
      "bounds": "flush"
    }
      ]
    },
    {
      "width": 604, "height": 150,
      "view": {"stroke": null},
      "data": {"values": [
        {"line": 1, "text": "Neurobehavioral responses to varying doses of daily sleep. Four different neurobehavioral assays served to mea-"},
        {"line": 2, "text": "sure cognitive performance capability and subjective sleepiness. Each panel displays group averages for subjects in the 8 h"},
        {"line": 3, "text": "(◊), 6 h (□), and 4 h (○) chronic sleep period conditions across 14 days, and in the 0 h (■) sleep condition across 3 days."},
        {"line": 4, "text": "Subjects were tested every 2 h each day; data points represent the daily average (07:30–23:30) expressed relative to baseline"},
        {"line": 5, "text": "(BL). Panel A shows psychomotor vigilance task (PVT) performance lapses; panel B shows Stanford Sleepiness Scale (SSS)"},
        {"line": 6, "text": "self-ratings; panel C shows digit symbol substitution task (DSST) correct responses; and panel D shows serial addition/sub-"},
        {"line": 7, "text": "traction task (SAST) correct responses per min. Upward corresponds to worse performance on the PVT and greater sleepi-"},
        {"line": 8, "text": "ness on the SSS, and to better performance on the DSST and the SAST. The curves through the data points represent statis-"},
        {"line": 9, "text": "tical non-linear model-based best-fitting profiles of the response to sleep deprivation (equation (1)) for subjects in each of"}
      ]},
      "encoding": {
        "x": {"datum": 0, "type": "quantitative", "scale": {"domain": [0, 1]}, "axis": null},
        "y": {"field": "line", "type": "quantitative", "scale": {"domain": [0.029, 8.6], "reverse": true, "nice": false, "zero": false}, "axis": null}
      },
      "layer": [
        {
          "transform": [{"filter": "datum.line == 1"}],
          "mark": {"type": "text", "font": "Liberation Serif", "fontSize": 13.3, "fontWeight": "bold", "align": "left", "baseline": "alphabetic", "dx": -60, "color": "#111", "text": "Figure 1—"}
        },
        {
          "transform": [{"filter": "datum.line == 1"}],
          "mark": {"type": "text", "font": "Liberation Serif", "fontSize": 13.3, "align": "left", "baseline": "alphabetic", "dx": 1, "color": "#111"},
          "encoding": {"text": {"field": "text"}}
        },
        {
          "transform": [{"filter": "datum.line > 1"}],
          "mark": {"type": "text", "font": "Liberation Serif", "fontSize": 13.3, "align": "left", "baseline": "alphabetic", "dx": -60, "color": "#111"},
          "encoding": {"text": {"field": "text"}}
        }
      ]
    }
  ]
}
